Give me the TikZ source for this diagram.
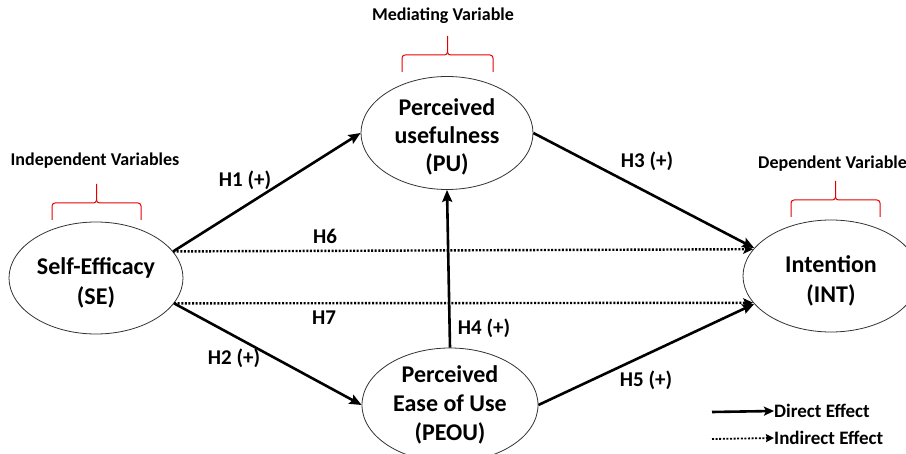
\documentclass[tikz,border=0pt]{standalone}
\usepackage{fontspec}
\setmainfont{Carlito}
\usetikzlibrary{arrows.meta,shapes.geometric}
\tikzset{
  var/.style={ellipse,draw=black!80,line width=0.8pt,inner sep=0pt},
  vtext/.style={align=center,inner sep=0pt,font=\fontsize{24}{30}\selectfont\bfseries},
  direct/.style={line width=2.6pt,-{Stealth[length=12pt,width=10pt,inset=2pt]}},
  indirect/.style={line width=2.4pt,dash pattern=on 2pt off 1.6pt,-{Stealth[length=10pt,width=9pt,inset=2pt]}},
  hlab/.style={font=\fontsize{21}{24}\selectfont\bfseries,anchor=base,inner sep=0pt},
  heading/.style={font=\fontsize{18}{20}\selectfont\bfseries,anchor=base,inner sep=0pt},
  legtext/.style={font=\fontsize{19}{21}\selectfont\bfseries,anchor=west,inner sep=0pt},
  brace/.style={draw=red!90!black,line width=1pt},
}
\newcommand{\redbrace}[5]{% left, right, peak y, level y, bottom y
  \pgfmathsetmacro{\bm}{(#1+#2)/2}
  \draw[brace] (#1,#5) -- (#1,#4+3) to[out=90,in=180] (#1+3,#4) -- (\bm-3,#4)
    to[out=0,in=-90] (\bm,#4-3) -- (\bm,#3);
  \draw[brace] (\bm,#4-3) to[out=-90,in=180] (\bm+3,#4) -- (#2-3,#4)
    to[out=0,in=90] (#2,#4+3) -- (#2,#5);
}
\begin{document}
\begin{tikzpicture}[x=1pt,y=-1pt]
\useasboundingbox (0,0) rectangle (906,454);
\fill[white] (0,0) rectangle (906,454);

\node[var,minimum width=174pt,minimum height=112pt] (SE) at (96,278) {};
\node[var,minimum width=172pt,minimum height=113pt] (PU) at (447,133) {};
\node[var,minimum width=176pt,minimum height=114pt] (PEOU) at (450,405) {};
\node[var,minimum width=176pt,minimum height=112pt] (INT) at (831,276) {};

\node[vtext] (SEt) at (96,283) {Self-Efficacy\\(SE)};
\node[vtext,font=\fontsize{24}{28}\selectfont\bfseries] (PUt) at (447,137) {Perceived\\usefulness\\(PU)};
\node[vtext,font=\fontsize{24}{29}\selectfont\bfseries] (PEOUt) at (450,405) {Perceived\\Ease of Use\\(PEOU)};
\node[vtext] (INTt) at (831,281) {Intention\\(INT)};

\draw[direct] (SE.19) -- (PU.west);
\draw[direct] (PU.east) -- (INT.160);
\draw[direct] (SE.-18) -- (PEOU.west);
\draw[direct] (PEOU.east) -- (INT.200);
\draw[direct] (PEOU.north) -- (PU.south);
\draw[indirect] (SE.19) -- (INT.161);
\draw[indirect] (SE.-18) -- (INT.199);

\node[hlab] (h1) at (245,187) {H1 (+)};
\node[hlab] (h3) at (647,168) {H3 (+)};
\node[hlab] (h6) at (325,244) {H6};
\node[hlab] (h7) at (324,325) {H7};
\node[hlab] (h4) at (484,335) {H4 (+)};
\node[hlab] (h2) at (234,365) {H2 (+)};
\node[hlab] (h5) at (646,387) {H5 (+)};

\node[heading] (med) at (443,21) {Mediating Variable};
\node[heading] (ind) at (95,166) {Independent Variables};
\node[heading,anchor=base west] (dep) at (758,169) {Dependent Variable};

\redbrace{402}{493}{36}{55}{72}
\redbrace{52}{141}{184}{203}{220}
\redbrace{791}{880}{181}{200}{217}

\coordinate (d1) at (712,412);
\node[legtext] (dtxt) at (774,411) {Direct Effect};
\draw[direct,-{Stealth[length=10pt,width=9pt,inset=2pt]}] (d1) -- (dtxt.west);
\coordinate (i1) at (712,439);
\node[legtext] (itxt) at (774,438) {Indirect Effect};
\draw[indirect,line width=1.8pt,-{Stealth[length=8pt,width=8pt,inset=1pt]}] (i1) -- (itxt.west);
\end{tikzpicture}
\end{document}
